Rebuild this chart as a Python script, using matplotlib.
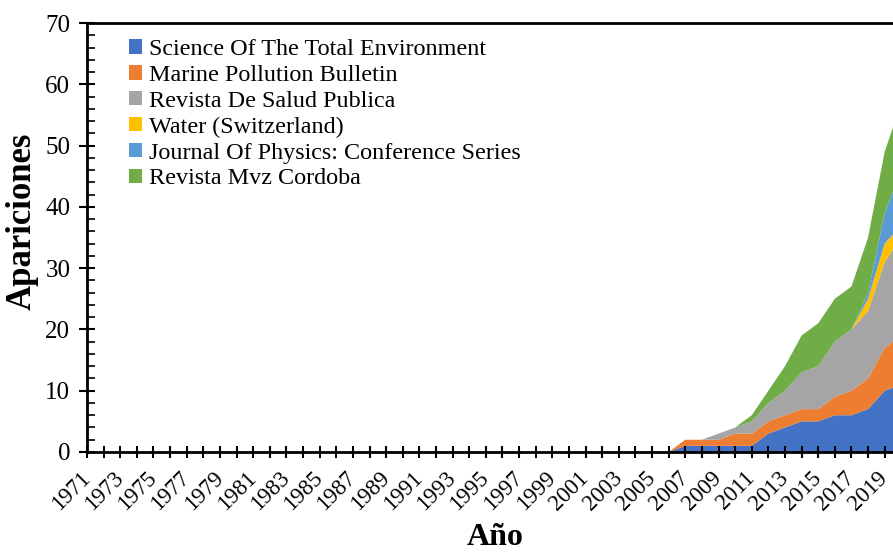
import numpy as np
import matplotlib
matplotlib.use("Agg")
import matplotlib.pyplot as plt
from matplotlib.ticker import MultipleLocator, FixedLocator

plt.rcParams['font.family'] = ['Liberation Serif', 'DejaVu Serif']

years = list(range(1971, 2021))
labels = ["Science Of The Total Environment", "Marine Pollution Bulletin",
          "Revista De Salud Publica", "Water (Switzerland)",
          "Journal Of Physics: Conference Series", "Revista Mvz Cordoba"]
colors = ["#4472C4", "#ED7D31", "#A5A5A5", "#FFC000", "#5B9BD5", "#70AD47"]

zeros = [0] * 35  # 1971-2005
# 2006 .. 2020
science = zeros + [0, 1, 1, 1, 1, 1, 3, 4, 5, 5, 6, 6, 7, 10, 11]
marine  = zeros + [0, 1, 1, 1, 2, 2, 2, 2, 2, 2, 3, 4, 5, 7, 8]
salud   = zeros + [0, 0, 0, 1, 1, 2, 3, 4, 6, 7, 9, 10, 11, 14, 16]
water   = zeros + [0, 0, 0, 0, 0, 0, 0, 0, 0, 0, 0, 0, 2, 3, 2]
physics = zeros + [0, 0, 0, 0, 0, 0, 0, 0, 0, 0, 0, 0, 1, 5, 9]
mvz     = zeros + [0, 0, 0, 0, 0, 1, 2, 4, 6, 7, 7, 7, 9, 10, 11]

fig = plt.figure(figsize=(8.93, 5.52), dpi=100)
ax = fig.add_axes([87/893, 100/552, 1 - 87/893, (452-23)/552])

ax.stackplot(years, science, marine, salud, water, physics, mvz,
             colors=colors, labels=labels, linewidth=0)

ax.set_xlim(1971, 2019.5)
ax.set_ylim(0, 70)

ax.xaxis.set_major_locator(FixedLocator(years))
ax.set_xticklabels([str(y) if (y - 1971) % 2 == 0 else "" for y in years],
                   rotation=45, ha='right', va='center', rotation_mode='anchor',
                   fontsize=16.5)
ax.tick_params(axis='x', which='major', direction='inout', length=9, width=1.5,
               pad=12)
ax.yaxis.set_major_locator(MultipleLocator(10))
ax.yaxis.set_minor_locator(MultipleLocator(2))
ax.tick_params(axis='y', which='major', direction='inout', length=12, width=1.5,
               labelsize=18, pad=6)
ax.tick_params(axis='y', which='minor', direction='in', length=6, width=1.2)

for s in ['left', 'bottom', 'top']:
    ax.spines[s].set_linewidth(2)
ax.spines['right'].set_visible(False)

ax.set_xlabel("Año", fontsize=23, fontweight='bold')
ax.set_ylabel("Apariciones", fontsize=25, fontweight='bold')
ax.xaxis.set_label_coords(0.506, -0.166)
ax.yaxis.set_label_coords(-0.060, 0.538)

leg = ax.legend(loc='upper left', bbox_to_anchor=(0.04, 0.985), frameon=False,
                fontsize=17.4, handlelength=0.55, handleheight=0.55,
                handletextpad=0.3, labelspacing=0.2, borderaxespad=0)

fig.savefig("out.png", dpi=100)
